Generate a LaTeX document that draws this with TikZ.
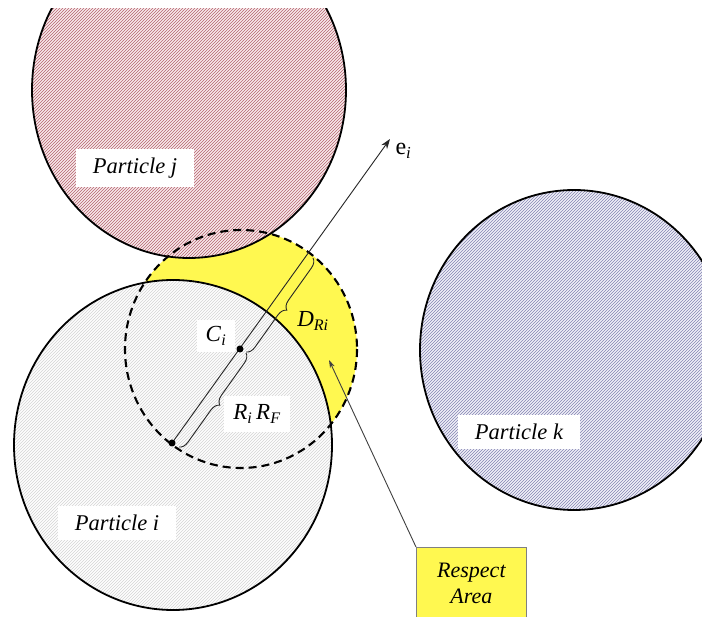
\documentclass[tikz,border=0pt]{standalone}
\usepackage{fontspec}
\setmainfont{Liberation Serif}
\usetikzlibrary{patterns,decorations.pathreplacing,arrows.meta}
\definecolor{jbase}{RGB}{248,234,236}
\definecolor{jline}{RGB}{180,100,110}
\definecolor{ibase}{RGB}{254,254,254}
\definecolor{iline}{RGB}{212,212,212}
\definecolor{kbase}{RGB}{240,240,248}
\definecolor{kline}{RGB}{132,132,178}
\definecolor{resp}{RGB}{255,248,80}
\begin{document}
\begin{tikzpicture}[x=1pt,y=-1pt,
  outline/.style={draw=black,line width=1.8pt},
  hatchj/.style={fill=jbase,postaction={pattern=north east lines,pattern color=jline}},
  hatchi/.style={fill=ibase,postaction={pattern=north east lines,pattern color=iline}},
  hatchk/.style={fill=kbase,postaction={pattern=north east lines,pattern color=kline}},
  respfill/.style={fill=resp},
  respdash/.style={draw=black,line width=2.1pt,dash pattern=on 8pt off 5pt},
  lbl/.style={fill=white,font=\fontsize{22.5}{26}\selectfont\itshape,inner xsep=17pt,inner ysep=9pt},
  mlbl/.style={font=\fontsize{23}{26}\selectfont},
  bracestyle/.style={draw=black!85,line width=0.9pt,decorate,decoration={brace,amplitude=9pt}}]
\useasboundingbox (0,0) rectangle (702,617);
\fill[white] (0,0) rectangle (702,617);
\begin{scope}
\clip (0,9) rectangle (702,617);
% respect area (yellow)
\path[respfill] (241,349) ellipse [x radius=116,y radius=119];
% particles
\path[hatchj] (189,90) ellipse [x radius=157,y radius=168];
\path[hatchi] (173,445) ellipse [x radius=159,y radius=165];
\path[hatchk] (574,350) ellipse [x radius=154,y radius=160];
\draw[outline] (189,90) ellipse [x radius=157,y radius=168];
\draw[outline] (173,445) ellipse [x radius=159,y radius=165];
\draw[outline] (574,350) ellipse [x radius=154,y radius=160];
\draw[respdash] (241,349) ellipse [x radius=116,y radius=119];
\end{scope}
% geometry
\coordinate (P) at (172,443);
\coordinate (Ci) at (240,349);
\coordinate (E) at (390,139);
\coordinate (B1a) at (313,258);
\coordinate (B1b) at (246,352);
\coordinate (B2a) at (246,353);
\coordinate (B2b) at (179,447);
\coordinate (ratip) at (329,360);
\draw[line width=0.9pt,draw=black!85,-{Stealth[length=10pt,width=7pt]}] (P) -- (E);
\fill (P) circle (3.5);
\fill (Ci) circle (3.5);
\draw[bracestyle] (B1a) -- (B1b);
\draw[bracestyle] (B2a) -- (B2b);
% labels
\node[lbl] (lj) at (135,168) {Particle j};
\node[lbl] (li) at (117,523) {Particle i};
\node[lbl] (lk) at (519,432) {Particle k};
\node[mlbl,anchor=west,font=\fontsize{24}{26}\selectfont] (le) at (392,151) {e\textsubscript{\itshape i}};
\node[mlbl,fill=white,inner xsep=9pt,inner ysep=7pt] (lc) at (216,336) {\textit{C}\textsubscript{\itshape i}};
\node[mlbl] (ld) at (313,321) {\textit{D}\textsubscript{\itshape Ri}};
\node[mlbl,fill=white,inner xsep=9pt,inner ysep=9pt] (lr) at (257,414) {\textit{R}\textsubscript{\itshape i}\,\textit{R}\textsubscript{\itshape F}};
\node[draw=gray,respfill,line width=0.8pt,anchor=north west,minimum width=110pt,minimum height=72pt,align=center,font=\fontsize{22}{26}\selectfont\itshape] (ra) at (416,547) {Respect\\Area};
\draw[line width=0.9pt,draw=black!75,-{Stealth[length=8pt,width=5pt]}] (ra.north west) -- (ratip);
\end{tikzpicture}
\end{document}
